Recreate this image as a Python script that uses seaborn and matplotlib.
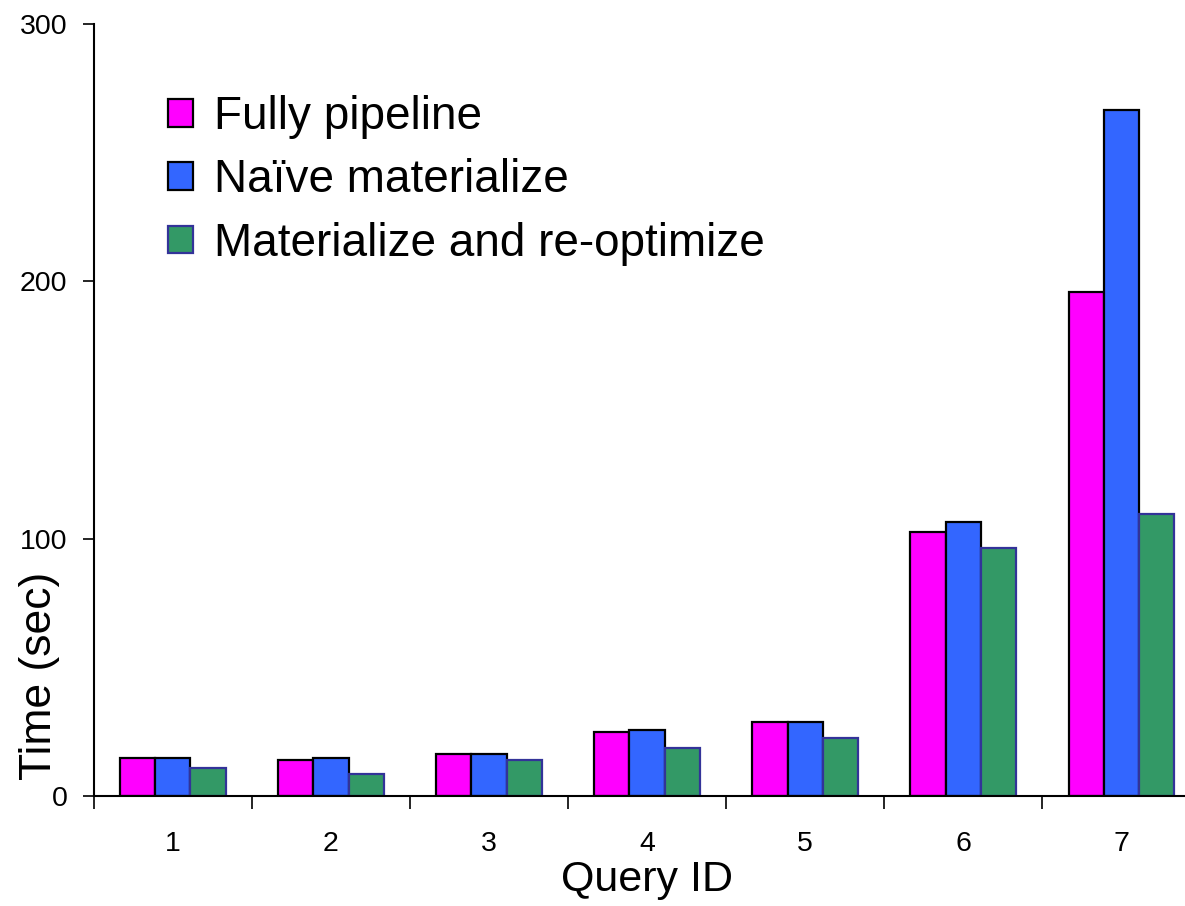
import pandas as pd
import matplotlib
matplotlib.use('Agg')
import matplotlib.pyplot as plt
import seaborn as sns
from matplotlib.patches import Patch

# data
queries = ['1', '2', '3', '4', '5', '6', '7']
methods = ['Fully pipeline', 'Naïve materialize', 'Materialize and re-optimize']
fully_pipeline = [14.8, 14.0, 16.3, 24.9, 28.8, 102.5, 195.9]
naive_materialize = [14.8, 14.8, 16.3, 25.6, 28.8, 106.4, 266.5]
mat_reoptimize = [10.9, 8.7, 14.0, 18.7, 22.5, 96.4, 109.5]

colors = ['#FF00FF', '#3366FF', '#339966']
edges = ['black', 'black', '#333399']

df = pd.DataFrame({
    'Query ID': queries * 3,
    'Method': [methods[0]] * 7 + [methods[1]] * 7 + [methods[2]] * 7,
    'Time': fully_pipeline + naive_materialize + mat_reoptimize,
})

sns.set_style('white')
plt.rcParams['font.family'] = ['Liberation Sans', 'DejaVu Sans']
plt.rcParams['text.color'] = 'black'
plt.rcParams['axes.labelcolor'] = 'black'
plt.rcParams['xtick.color'] = 'black'
plt.rcParams['ytick.color'] = 'black'

fig = plt.figure(figsize=(11.85, 9.06), dpi=100)
ax = fig.add_axes([0.0793, 0.1214, 0.9334, 0.852])

sns.barplot(data=df, x='Query ID', y='Time', hue='Method', order=queries,
            hue_order=methods, palette=colors, width=0.665, saturation=1,
            legend=False, ax=ax)

# green bars have a dark blue outline, the others black
for cont, ec in zip(ax.containers, edges):
    for bar in cont:
        bar.set_edgecolor(ec)
        bar.set_linewidth(1.6)

ax.set_xlim(-0.5, 6.5)
ax.set_ylim(0, 300)
ax.set_yticks([0, 100, 200, 300])
ax.tick_params(axis='y', labelsize=20.5, length=8, width=1.2, direction='out', left=True, pad=11)
ax.tick_params(axis='x', which='major', labelsize=20.5, length=0, pad=25)
ax.set_xticks([i - 0.5 for i in range(8)], minor=True)
ax.tick_params(axis='x', which='minor', length=9, width=1.2, direction='out', bottom=True)

for side in ['top', 'right']:
    ax.spines[side].set_visible(False)
for side in ['left', 'bottom']:
    ax.spines[side].set_color('black')
    ax.spines[side].set_linewidth(1.5)

ax.set_xlabel('Query ID', fontsize=31, labelpad=2)
ax.set_ylabel('Time (sec)', fontsize=32)
ax.yaxis.set_label_coords(-0.031, 0.155)

handles = [Patch(facecolor=c, edgecolor=e, linewidth=1.6) for c, e in zip(colors, edges)]
ax.legend(handles, methods, loc='upper left', bbox_to_anchor=(0.067, 0.908),
          frameon=False, fontsize=33, handlelength=0.55, handleheight=0.55,
          handletextpad=0.45, labelspacing=0.42, borderpad=0, borderaxespad=0)

fig.savefig('out.png', dpi=100)
